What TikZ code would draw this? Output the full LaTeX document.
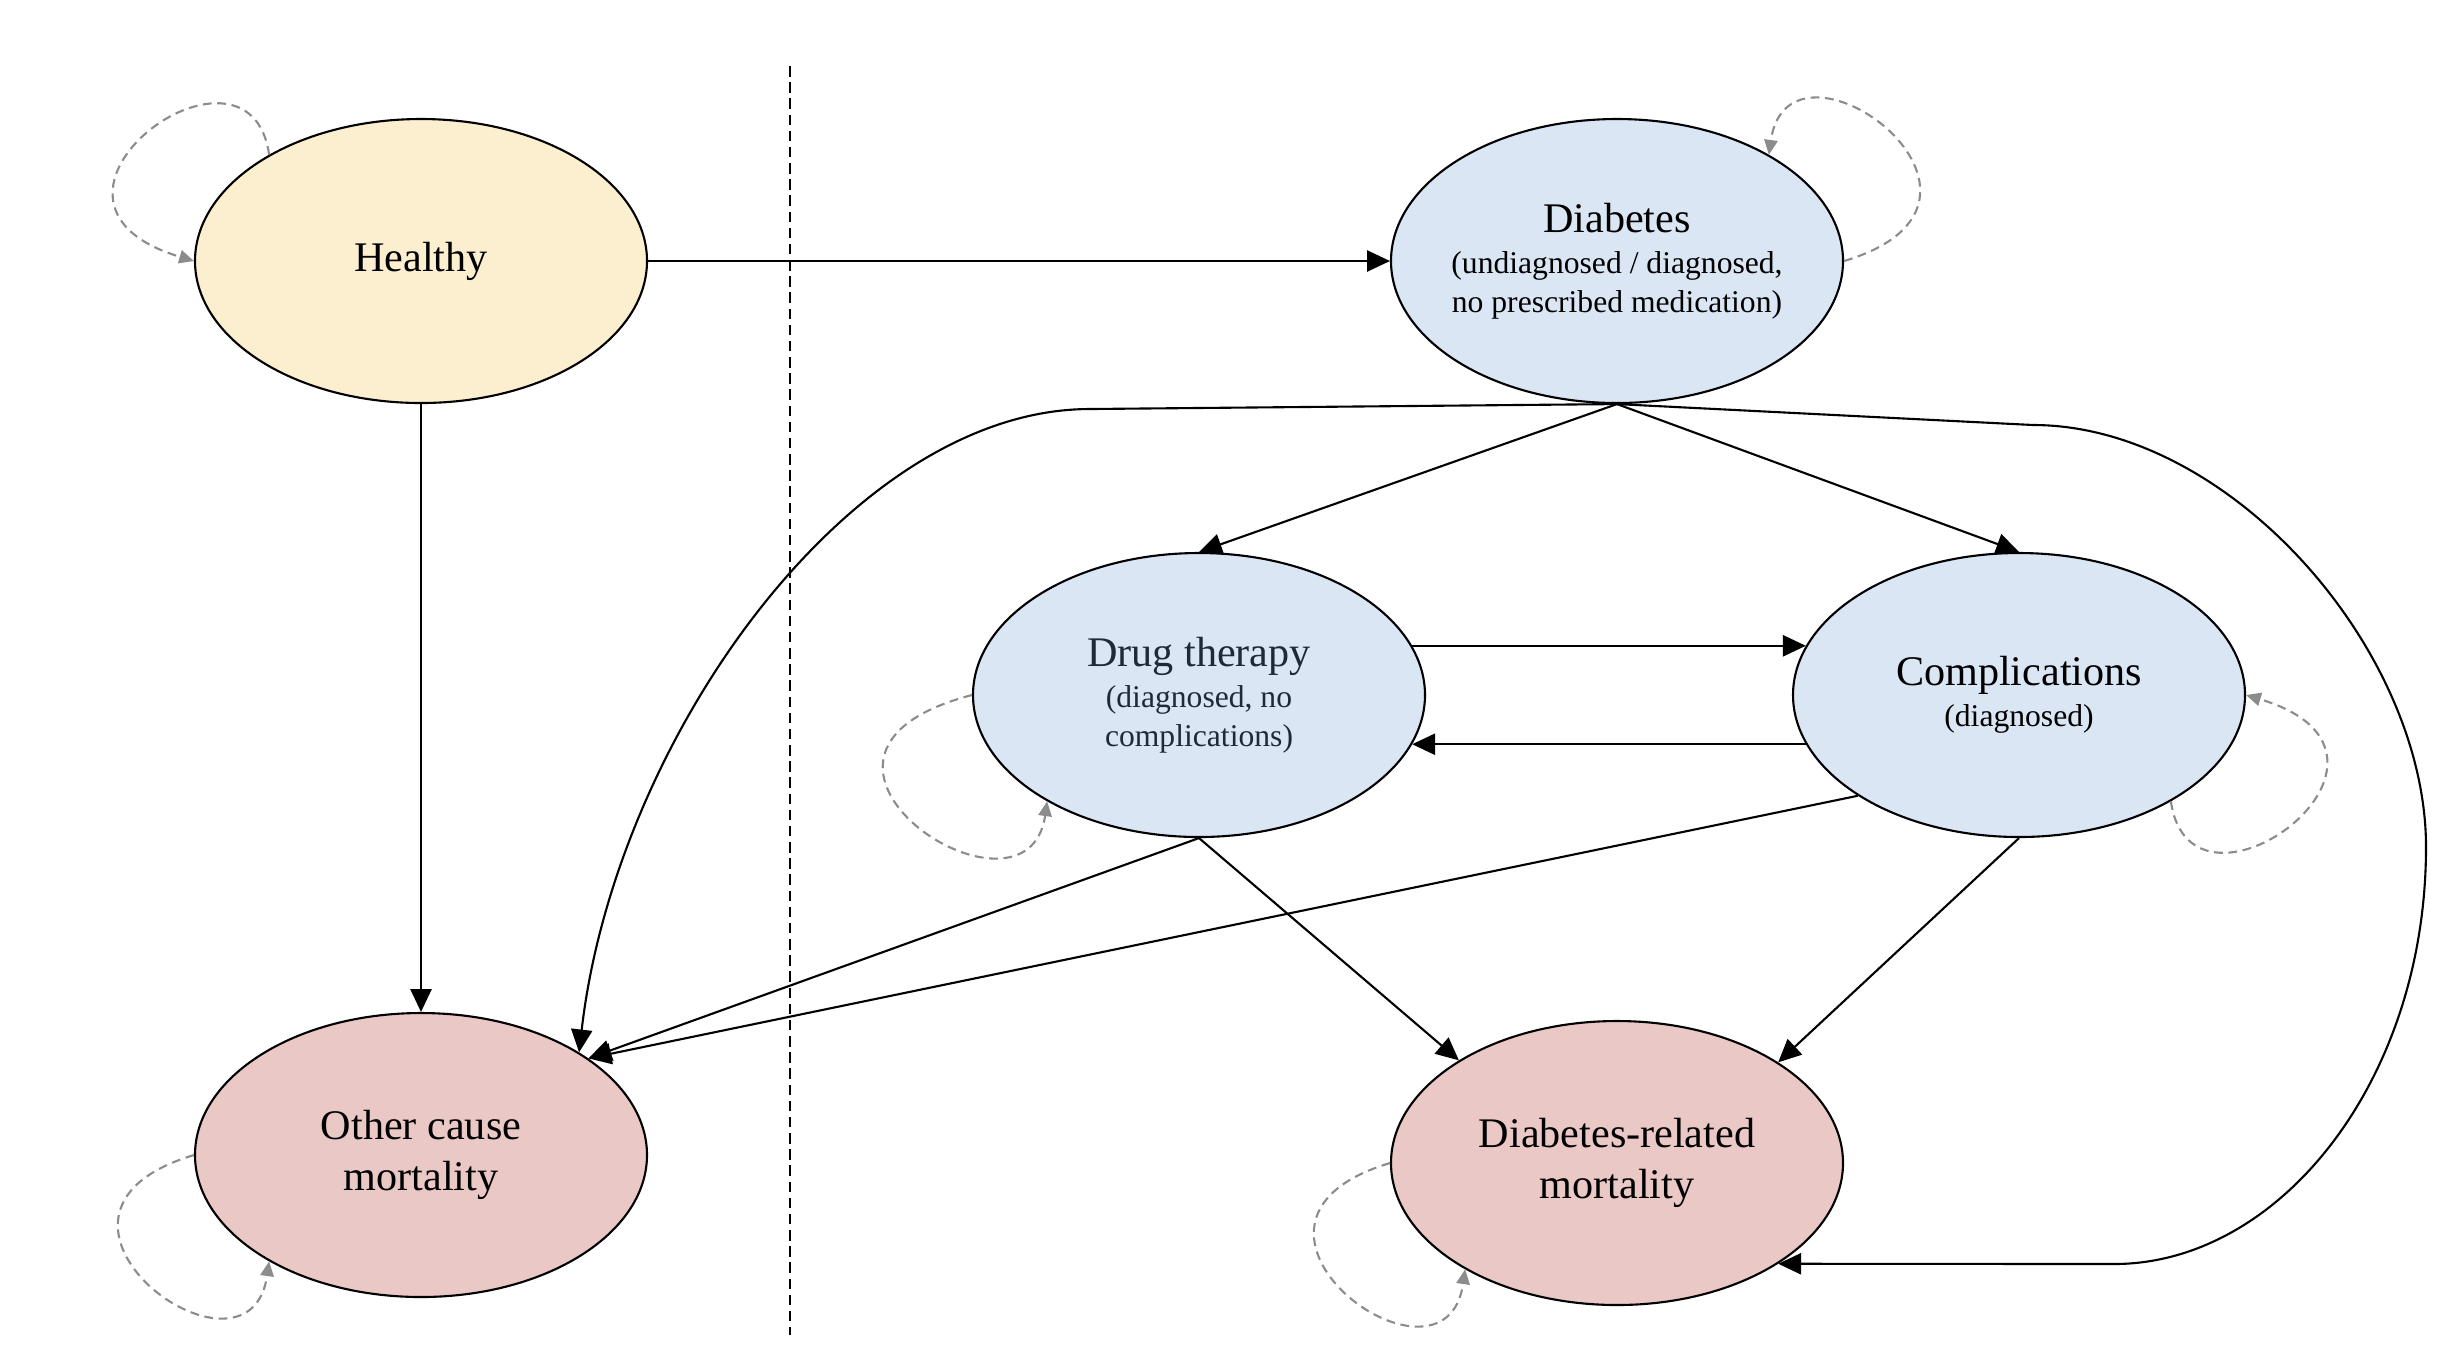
\documentclass[tikz,border=0pt]{standalone}
\usepackage{fontspec}
\setmainfont{Liberation Serif}
\usetikzlibrary{arrows.meta,shapes.geometric}
\definecolor{healthy}{HTML}{FCEFCF}
\definecolor{disease}{HTML}{DAE6F3}
\definecolor{death}{HTML}{EAC8C6}
\definecolor{loopgray}{HTML}{8C8C8C}
\definecolor{slate}{HTML}{1E2A3A}
\newcommand{\subf}{\fontsize{9}{10.6}\selectfont}
\tikzset{
  state/.style={ellipse, draw=black, line width=0.6pt, minimum width=4.52cm, minimum height=2.84cm, inner sep=0pt, inner xsep=-4pt, align=center, font=\fontsize{12}{14.6}\selectfont},
  arr/.style={draw=black, line width=0.6pt, -{Triangle[length=6.5pt,width=6pt]}},
  selfloop/.style={draw=loopgray, line width=0.6pt, dash pattern=on 2.5pt off 1.6pt, -{Triangle[length=4.2pt,width=3.8pt]}},
  divider/.style={draw=black, line width=0.5pt, dash pattern=on 3pt off 1.6pt},
}

\begin{document}
\begin{tikzpicture}
\useasboundingbox (0,0) rectangle (24.48,-13.70);
\node[state, fill=healthy] (h) at (4.21,-2.61) {Healthy};
\node[state, fill=disease] (d) at (16.17,-2.61) {Diabetes\\[-3pt]\subf (undiagnosed / diagnosed,\\[-3.5pt]\subf no prescribed medication)};
\node[state, fill=disease, text=slate] (dt) at (11.99,-6.95) {Drug therapy\\[-3pt]\subf (diagnosed, no\\[-3.5pt]\subf complications)};
\node[state, fill=disease] (co) at (20.19,-6.95) {Complications\\[-3pt]\subf (diagnosed)};
\node[state, fill=death] (o) at (4.21,-11.55) {Other cause\\mortality};
\node[state, fill=death] (drm) at (16.17,-11.63) {Diabetes-related\\mortality};

\draw[divider] (7.90,-0.66) -- (7.90,-13.35);

\draw[arr] (h.east) -- (d.west);
\draw[arr] (h.south) -- (o.north);
\draw[arr] (d.south) -- (dt.north);
\draw[arr] (d.south) -- (co.north);
\draw[arr] (dt.13) -- (co.167);
\draw[arr] (co.193) -- (dt.-13);
\draw[arr] (dt.south) -- (o.30);
\draw[arr] (co.212) -- (o.30);
\draw[arr] (dt.south) -- (drm.147);
\draw[arr] (co.south) -- (drm.32);
\draw[arr] (d.south) -- (10.90,-4.09) .. controls (8.50,-4.09) and (6.15,-7.40) .. (o.33);
\draw[arr] (d.south) -- (20.33,-4.25) .. controls (22.30,-4.25) and (24.26,-6.50) .. (24.26,-8.47)
  .. controls (24.26,-10.80) and (22.80,-12.64) .. (21.14,-12.64) -- (drm.328);

\draw[selfloop] (h.145) .. controls +(-0.2,1.41) and +(-2.0,0.6) .. (h.west);
\draw[selfloop] (d.east) .. controls +(2.0,0.6) and +(0.2,1.41) .. (d.35);
\draw[selfloop] (co.325) .. controls +(0.2,-1.41) and +(2.0,-0.6) .. (co.east);
\foreach \n/\r in {o/2.0,dt/2.3,drm/2.0}
  \draw[selfloop] (\n.west) .. controls +(-\r,-0.6) and +(-0.2,-1.41) .. (\n.215);
\end{tikzpicture}
\end{document}
